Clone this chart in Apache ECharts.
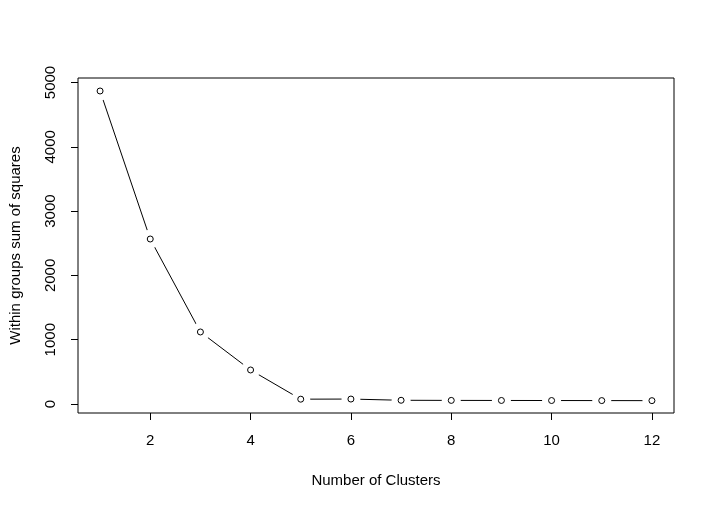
<!DOCTYPE html>
<html>
<head>
<meta charset="utf-8">
<script src="https://cdn.jsdelivr.net/npm/echarts@6/dist/echarts.min.js"></script>
<style>html,body{margin:0;padding:0;background:#fff}#c{width:715px;height:511px}</style>
</head>
<body>
<div id="c"></div>
<script>
var clusters = [1, 2, 3, 4, 5, 6, 7, 8, 9, 10, 11, 12];
var wss = [4868, 2566, 1120, 529, 75, 77, 58, 56, 55, 54, 53, 52];
var xTicks = [2, 4, 6, 8, 10, 12];
var yTicks = [0, 1000, 2000, 3000, 4000, 5000];
var xTitle = 'Number of Clusters';
var yTitle = 'Within groups sum of squares';

var pts = clusters.map(function (c, i) { return [c, wss[i]]; });
var font = 'Liberation Sans, Arial, sans-serif';
var fs = 15;
var chart = echarts.init(document.getElementById('c'));
chart.setOption({
  animation: false,
  backgroundColor: '#fff',
  grid: { left: 78, right: 41, top: 78, bottom: 98, containLabel: false, outerBoundsMode: 'none', show: true, borderColor: '#000', borderWidth: 1, backgroundColor: 'transparent' },
  xAxis: {
    type: 'value', min: 0.56, max: 12.44,
    name: xTitle, nameLocation: 'middle', nameGap: 60,
    nameTextStyle: { color: '#000', fontSize: fs, fontFamily: font },
    axisLine: { show: false, onZero: false },
    axisTick: { show: true, inside: false, length: 7, lineStyle: { color: '#000', width: 1 }, customValues: xTicks },
    axisLabel: { color: '#000', fontSize: fs, fontFamily: font, margin: 20, customValues: xTicks, formatter: function (v) { return String(v); } },
    splitLine: { show: false }
  },
  yAxis: {
    type: 'value', min: -140, max: 5070,
    name: yTitle, nameLocation: 'middle', nameGap: 55,
    nameTextStyle: { color: '#000', fontSize: fs, fontFamily: font },
    axisLine: { show: false, onZero: false },
    axisTick: { show: true, inside: false, length: 7, lineStyle: { color: '#000', width: 1 }, customValues: yTicks },
    axisLabel: { color: '#000', fontSize: fs, fontFamily: font, rotate: 90, margin: 20, customValues: yTicks, formatter: function (v) { return String(v); } },
    splitLine: { show: false }
  },
  series: [
    {
      type: 'line', data: pts, symbol: 'circle', symbolSize: 19, showAllSymbol: true,
      itemStyle: { color: '#fff', borderWidth: 0 },
      lineStyle: { color: '#000', width: 1 },
      emphasis: { disabled: true }, silent: true, z: 2
    },
    {
      type: 'scatter', data: pts, symbol: 'circle', symbolSize: 6,
      itemStyle: { color: '#fff', borderColor: '#000', borderWidth: 1, opacity: 1 },
      emphasis: { disabled: true }, silent: true, z: 4
    }
  ]
});
</script>
</body>
</html>
